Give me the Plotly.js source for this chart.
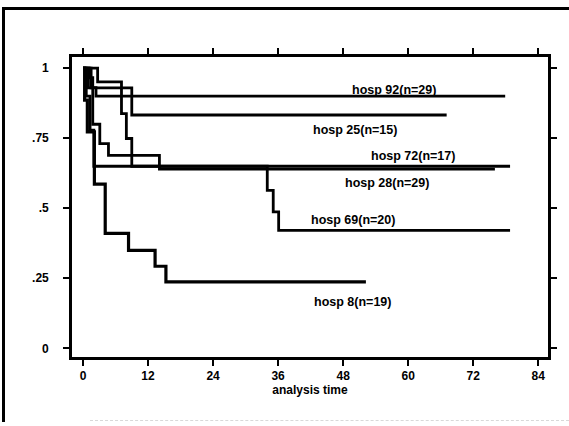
<!DOCTYPE html>
<html>
<head>
<meta charset="utf-8">
<script src="https://cdn.plot.ly/plotly-3.0.1.min.js"></script>
<style>
  html, body { margin: 0; padding: 0; background: #fff; }
  #chart { width: 569px; height: 426px; position: absolute; left: 0; top: 0; }
  #frame { position: absolute; left: 2px; top: 7px; width: 600px; height: 412px;
           border-left: 3px solid #000; border-top: 3px solid #000; pointer-events: none; }
  #foot { position: absolute; left: 90px; top: 420px; width: 479px; height: 0;
          border-top: 1px dashed #d8d8d8; pointer-events: none; }
</style>
</head>
<body>
<div id="chart"></div>
<div id="frame"></div>
<div id="foot"></div>
<script>
// Kaplan-Meier step curves (time in months, survival)
const hosp92_t = [0, 1.2, 1.8, 2.4, 77.9];
const hosp92_s = [1, 0.966, 0.931, 0.900, 0.900];

const hosp25_t = [0, 1.5, 9.0, 67.1];
const hosp25_s = [1, 0.930, 0.833, 0.833];

const hosp72_t = [0, 2.7, 7.1, 8.0, 9.0, 78.8];
const hosp72_s = [1, 0.951, 0.838, 0.749, 0.650, 0.650];

const hosp28_t = [0, 1.0, 1.8, 3.1, 4.7, 14.1, 76.0];
const hosp28_s = [1, 0.930, 0.800, 0.731, 0.689, 0.640, 0.640];

const hosp69_t = [0, 0.6, 1.3, 2.0, 34.0, 35.1, 36.1, 78.8];
const hosp69_s = [1, 0.900, 0.779, 0.650, 0.564, 0.487, 0.421, 0.421];

const hosp8_t = [0, 0.3, 0.8, 2.1, 4.1, 8.4, 13.3, 15.3, 52.2];
const hosp8_s = [1, 0.886, 0.773, 0.586, 0.410, 0.350, 0.293, 0.237, 0.237];

const labels = ["hosp 92(n=29)", "hosp 25(n=15)", "hosp 72(n=17)", "hosp 28(n=29)", "hosp 69(n=20)", "hosp 8(n=19)"];
const labelX = [57.4, 50.2, 60.8, 56.0, 49.9, 49.7];
const labelY = [0.921, 0.781, 0.686, 0.590, 0.457, 0.165];

const xTicks = [0, 12, 24, 36, 48, 60, 72, 84];
const yTicks = [0, 0.25, 0.5, 0.75, 1];
const yTickText = ["0", ".25", ".5", ".75", "1"];

const FONT = "'Liberation Sans', Arial, Helvetica, sans-serif";

const series = [
  [hosp92_t, hosp92_s], [hosp25_t, hosp25_s], [hosp72_t, hosp72_s],
  [hosp28_t, hosp28_s], [hosp69_t, hosp69_s], [hosp8_t, hosp8_s]
];
const traces = series.map(function (d, i) {
  return {
    x: d[0], y: d[1], type: "scatter", mode: "lines",
    line: { shape: "hv", color: "#000", width: i === 5 ? 3.2 : 2.8 },
    name: labels[i], showlegend: false, hoverinfo: "skip"
  };
});

const annotations = labels.map(function (t, i) {
  return {
    x: labelX[i], y: labelY[i], xref: "x", yref: "y", text: t, showarrow: false,
    font: { family: FONT, size: 12.5, color: "#000", weight: "bold" }
  };
});

const layout = {
  width: 569, height: 426,
  margin: { l: 72, r: 21, t: 57, b: 69, pad: 0 },
  paper_bgcolor: "#fff", plot_bgcolor: "#fff",
  showlegend: false,
  xaxis: {
    range: [-2.03, 85.8], tickvals: xTicks, ticktext: xTicks.map(String),
    showgrid: false, zeroline: false,
    showline: true, linecolor: "#000", linewidth: 2.8, mirror: "allticks",
    ticks: "outside", ticklen: 6, tickwidth: 2, tickcolor: "#000",
    tickfont: { family: FONT, size: 12, color: "#000", weight: "bold" },
    title: { text: "analysis time", standoff: 0,
             font: { family: FONT, size: 12, color: "#000", weight: "bold" } }
  },
  yaxis: {
    range: [-0.031, 1.040], tickvals: yTicks, ticktext: yTickText,
    showgrid: false, zeroline: false,
    showline: true, linecolor: "#000", linewidth: 2.8, mirror: "allticks",
    ticks: "outside", ticklen: 6, tickwidth: 2, tickcolor: "#000",
    ticklabelstandoff: 12,
    tickfont: { family: FONT, size: 12, color: "#000", weight: "bold" }
  },
  annotations: annotations
};

Plotly.newPlot("chart", traces, layout, { staticPlot: true, displayModeBar: false });
</script>
</body>
</html>
